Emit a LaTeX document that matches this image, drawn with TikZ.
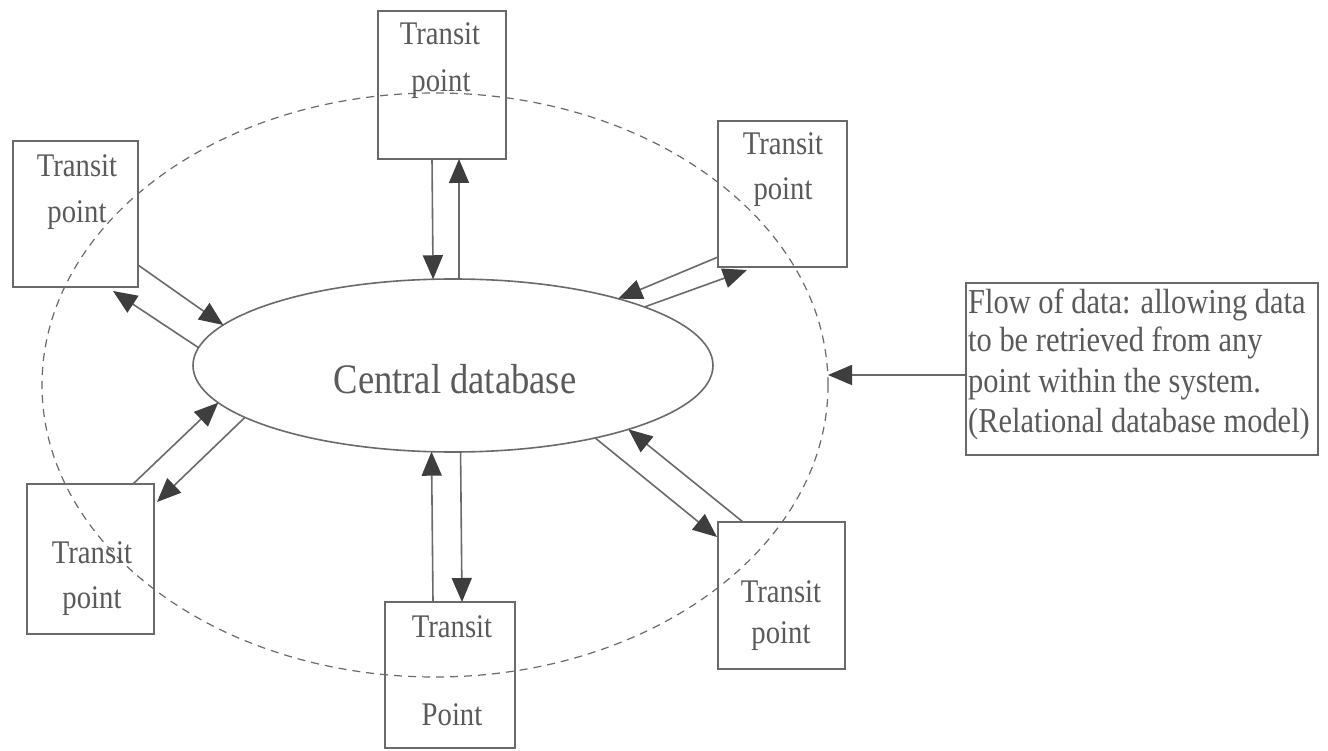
\documentclass[tikz,border=0pt]{standalone}
\usepackage{fontspec}
\setmainfont[FakeStretch=0.87]{Liberation Serif}
\usetikzlibrary{arrows.meta,shapes.geometric,calc}
\definecolor{linec}{HTML}{6A6A6A}
\definecolor{textc}{HTML}{5A5A5A}
\definecolor{headc}{HTML}{3E3E3E}
\begin{document}
\begin{tikzpicture}[x=1pt,y=-1pt,
  box/.style={draw=linec, line width=1.6pt, inner sep=0pt, outer sep=0pt},
  lbl/.style={text=textc, font=\fontsize{33}{40}\selectfont, inner sep=0pt, anchor=base},
  nt/.style={text=textc, font=\fontsize{35}{40}\selectfont, inner sep=0pt, anchor=base west},
  arr/.style={draw=linec, line width=1.6pt, -{Triangle[length=24pt,width=20pt,color=headc]}},
  ]
\fill[white] (0,0) rectangle (1328,751);
\useasboundingbox (0,0) rectangle (1328,751);

% system boundary (dashed ellipse)
\node[ellipse, draw=linec, line width=1.2pt, dash pattern=on 8pt off 6pt,
      minimum width=786pt, minimum height=584pt, inner sep=0pt, outer sep=0pt] (sys) at (435,385) {};

% central database
\node[ellipse, draw=linec, line width=1.6pt, fill=white,
      minimum width=520pt, minimum height=173pt, inner sep=0pt, outer sep=0pt] (db) at (453,365.5) {};
\node[text=textc, font=\fontsize{42}{48}\selectfont, inner sep=0pt, anchor=base] (dbt) at (455,393) {Central database};

% transit point boxes
\node[box, minimum width=128pt, minimum height=148pt] (tp) at (442,85) {};
\node[box, minimum width=125pt, minimum height=146pt] (tl) at (75.5,214) {};
\node[box, minimum width=129pt, minimum height=146pt] (tr) at (782.5,194) {};
\node[box, minimum width=127pt, minimum height=150pt] (bl) at (90.5,559) {};
\node[box, minimum width=130pt, minimum height=146pt] (bt) at (450,675) {};
\node[box, minimum width=127pt, minimum height=147pt] (br) at (781.5,595.5) {};

\node[lbl] (tpa) at (440,45) {Transit};
\node[lbl] (tpb) at (441,92) {point};
\node[lbl] (tla) at (77,177) {Transit};
\node[lbl] (tlb) at (77,223) {point};
\node[lbl] (tra) at (783,155) {Transit};
\node[lbl] (trb) at (783,200) {point};
\node[lbl] (bla) at (92,563) {Transit};
\node[lbl] (blb) at (92,608) {point};
\node[lbl] (bta) at (452,637) {Transit};
\node[lbl] (btb) at (452,725) {Point};
\node[lbl] (bra) at (781,602) {Transit};
\node[lbl] (brb) at (781,643) {point};

% note box
\node[box, minimum width=352pt, minimum height=172pt] (note) at (1142,369) {};
\node[nt] (n1) at (968,313) {Flow of data: allowing data};
\node[nt] (n2) at (968,352) {to be retrieved from any};
\node[nt] (n3) at (968,392) {point within the system.};
\node[nt] (n4) at (968,432) {(Relational database model)};

% data flows
\draw[arr] ($(tp.south)+(-10,0)$) -- (db.103.7);
\draw[arr] (db.86) -- ($(tp.south)+(17,0)$);
\draw[arr] ($(tl.south east)+(0,-22)$) -- (db.170.6);
\draw[arr] (db.176.6) -- ($(tl.south east)+(-25,4)$);
\draw[arr] ($(tr.south west)+(0,-10)$) -- (db.22.2);
\draw[arr] (db.17.25) -- ($(tr.south west)+(29,3)$);
\draw[arr] ($(bl.north east)+(-21,0)$) -- (db.189.4);
\draw[arr] (db.194.4) -- ($(bl.north east)+(3,18)$);
\draw[arr] ($(bt.north)+(-17,0)$) -- (db.256.9);
\draw[arr] (db.275.9) -- ($(bt.north)+(12,0)$);
\draw[arr] (db.333.4) -- ($(br.north west)+(-1,15)$);
\draw[arr] ($(br.north west)+(25,0)$) -- (db.340.9);
\coordinate (na) at ($(note.west)+(0,6)$);
\draw[arr] (na) -- (na -| sys.east);
\end{tikzpicture}
\end{document}
